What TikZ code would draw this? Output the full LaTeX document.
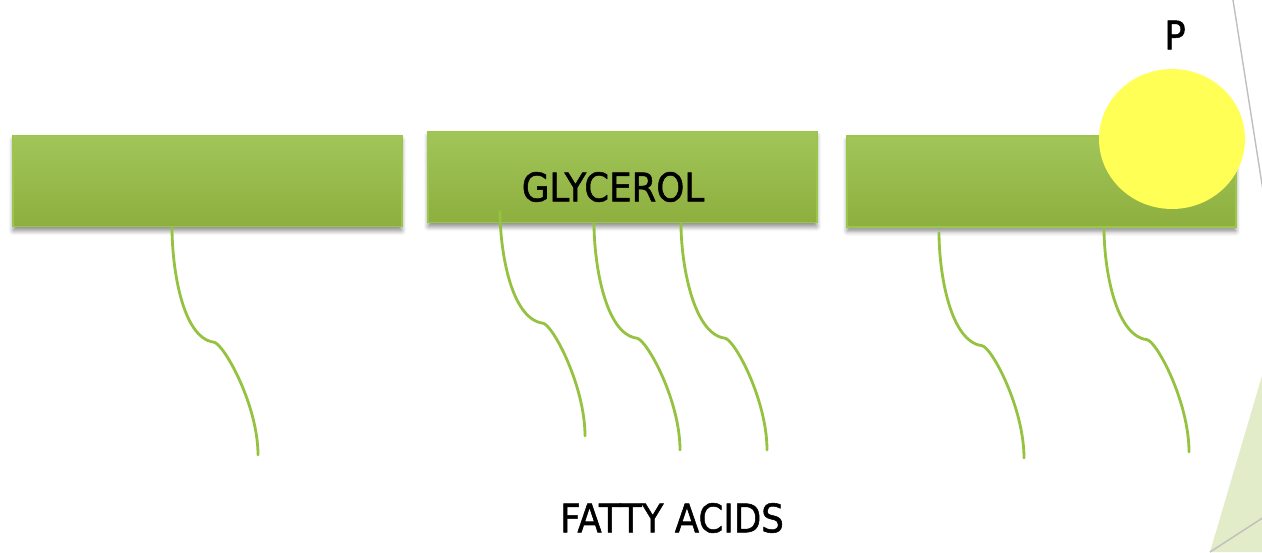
\documentclass[tikz,border=0pt]{standalone}
\usepackage{fontspec}
\setmainfont{DejaVu Sans}[FakeStretch=0.9,FakeBold=1.3]
\usepackage{tikz}
\usetikzlibrary{shapes.geometric,shadows.blur}
\definecolor{boxtop}{RGB}{162,197,90}
\definecolor{boxbot}{RGB}{141,175,62}
\definecolor{boxedge}{RGB}{155,198,74}
\definecolor{tailgreen}{RGB}{150,194,66}
\definecolor{dotyellow}{RGB}{255,255,85}
\definecolor{palegreen}{RGB}{226,236,201}
\tikzstyle{gb}=[shape=rectangle,draw=boxedge,line width=0.8pt,top color=boxtop,bottom color=boxbot,minimum width=7.78cm,minimum height=1.82cm,inner sep=0pt,blur shadow={shadow xshift=0pt,shadow yshift=-2.5pt,shadow blur radius=2.5pt,shadow opacity=45}]
\tikzstyle{tail}=[draw=tailgreen,line width=1.6pt,line cap=round]
\tikzstyle{lbl}=[font=\fontsize{22.5}{27}\selectfont,inner sep=0pt]

\begin{document}
\begin{tikzpicture}[x=0.02cm,y=0.02cm]
            \useasboundingbox (0,0) rectangle (1262,552);
            % slide decoration, right edge
            \fill[palegreen] (1210,0) -- (1264,183) -- (1264,0) -- cycle;
            \draw[gray!50,line width=0.8pt] (1210,0) -- (1264,35);
            \draw[gray!50,line width=0.8pt] (1233,552) -- (1264,355);
            \node[gb] (B1) at (207.5,371) {}
            ;
            \node[gb] (B2) at (622.5,375) {}
            ;
            \node[gb] (B3) at (1041.5,370.5) {}
            ;
            \node[lbl] (gly) at (613,365) {GLYCEROL}
            ;
            \node[shape=ellipse,fill=dotyellow,minimum width=2.92cm,minimum height=2.8cm,inner sep=0pt] (phos) at (1172,413) {}
            ;
            \node[lbl] (plab) at (1175,517) {P}
            ;
            \coordinate (f1) at (258,97);
            \coordinate (f2) at (585,116);
            \coordinate (f3) at (680,102);
            \coordinate (f4) at (767,102);
            \coordinate (f5) at (1024,94);
            \coordinate (f6) at (1189,100);
            \draw[tail] ([xshift=-0.71cm]B1.south) .. controls +(0,-40) and +(-32,4) .. ++(42,-115) .. controls +(10,-2) and +(0,50) .. (f1);
            \draw[tail] ([xshift=-2.45cm,yshift=0.24cm]B2.south) .. controls +(0,-40) and +(-32,4) .. ++(43,-112) .. controls +(10,-2) and +(0,50) .. (f2);
            \draw[tail] ([xshift=-0.57cm]B2.south) .. controls +(0,-40) and +(-32,4) .. ++(43,-115) .. controls +(10,-2) and +(0,50) .. (f3);
            \draw[tail] ([xshift=1.17cm]B2.south) .. controls +(0,-40) and +(-32,4) .. ++(44,-115) .. controls +(10,-2) and +(0,50) .. (f4);
            \draw[tail] ([xshift=-2.05cm,yshift=-0.1cm]B3.south) .. controls +(0,-40) and +(-32,4) .. ++(43,-113) .. controls +(10,-2) and +(0,50) .. (f5);
            \draw[tail] ([xshift=1.25cm]B3.south) .. controls +(0,-40) and +(-32,4) .. ++(43,-112) .. controls +(10,-2) and +(0,50) .. (f6);
            \node[lbl] (fa) at (672,34) {FATTY ACIDS}
            ;
        \end{tikzpicture}
\end{document}
